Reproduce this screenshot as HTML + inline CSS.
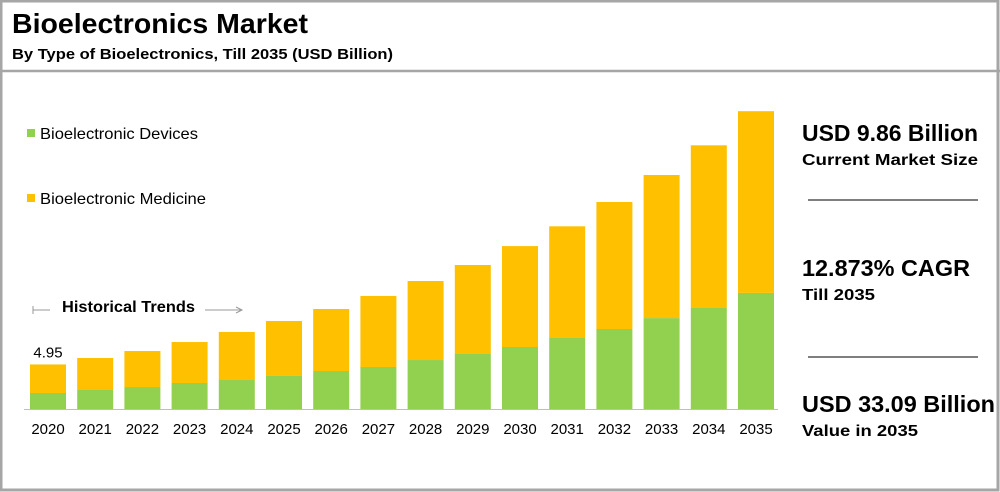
<!DOCTYPE html>
<html><head><meta charset="utf-8"><style>
body{margin:0;background:#fff;font-family:"Liberation Sans",sans-serif;}
#wrap{position:relative;width:1000px;height:492px;overflow:hidden;}
</style></head><body>
<div id="wrap">
<svg id="svg" width="1000" height="492">
<rect x="1" y="1" width="997" height="489" fill="#fff" stroke="#a6a6a6" stroke-width="3"/>
<line x1="0" y1="71" x2="1000" y2="71" stroke="#a6a6a6" stroke-width="2.5"/>
<text x="12" y="33" font-size="28" font-weight="bold" fill="#000" textLength="296" lengthAdjust="spacingAndGlyphs">Bioelectronics Market</text>
<text x="12" y="59" font-size="15" font-weight="bold" fill="#000" textLength="381" lengthAdjust="spacingAndGlyphs">By Type of Bioelectronics, Till 2035 (USD Billion)</text>
<rect x="27" y="129" width="8" height="8" fill="#92d050"/>
<text x="40" y="139" font-size="16" fill="#000" textLength="158" lengthAdjust="spacingAndGlyphs">Bioelectronic Devices</text>
<rect x="27" y="194" width="8" height="8" fill="#ffc000"/>
<text x="40" y="204" font-size="16" fill="#000" textLength="166" lengthAdjust="spacingAndGlyphs">Bioelectronic Medicine</text>
<g stroke="#999" stroke-width="1" fill="none">
<line x1="33" y1="306" x2="33" y2="314"/><line x1="33" y1="310" x2="50" y2="310"/>
<line x1="205" y1="310" x2="241" y2="310"/><path d="M236 307 L242 310 L236 313"/>
</g>
<text x="62" y="312" font-size="16" font-weight="bold" fill="#000" textLength="133" lengthAdjust="spacingAndGlyphs">Historical Trends</text>
<g id="bars"></g>
<text x="802" y="141" font-size="23" font-weight="bold" textLength="176" lengthAdjust="spacingAndGlyphs">USD 9.86 Billion</text>
<text x="802" y="165" font-size="16" font-weight="bold" textLength="176" lengthAdjust="spacingAndGlyphs">Current Market Size</text>
<line x1="808" y1="200" x2="978" y2="200" stroke="#7f7f7f" stroke-width="2"/>
<text x="802" y="276" font-size="23" font-weight="bold" textLength="168" lengthAdjust="spacingAndGlyphs">12.873% CAGR</text>
<text x="802" y="300" font-size="16" font-weight="bold" textLength="73" lengthAdjust="spacingAndGlyphs">Till 2035</text>
<line x1="808" y1="357" x2="978" y2="357" stroke="#7f7f7f" stroke-width="2"/>
<text x="802" y="412" font-size="23" font-weight="bold" textLength="193" lengthAdjust="spacingAndGlyphs">USD 33.09 Billion</text>
<text x="802" y="436" font-size="16" font-weight="bold" textLength="116" lengthAdjust="spacingAndGlyphs">Value in 2035</text>
</svg>
</div>
<script>
const years=["2020","2021","2022","2023","2024","2025","2026","2027","2028","2029","2030","2031","2032","2033","2034","2035"];
const devices=[1.78,2.11,2.44,2.89,3.22,3.67,4.22,4.67,5.44,6.11,6.89,7.89,8.89,10.1,11.3,12.9];
const medicine=[3.17,3.56,4.0,4.55,5.34,6.11,6.89,7.89,8.78,9.89,11.21,12.41,14.11,15.9,18.0,20.19];
const firstLabel="4.95";
const ns="http://www.w3.org/2000/svg";
const g=document.getElementById('bars');
const base=409, scale=9.0, x0=48, step=47.2, bw=36;
const xS=i=>x0+i*step;
const yS=v=>base-v*scale;
function mk(t,a){const e=document.createElementNS(ns,t);for(const k in a)e.setAttribute(k,a[k]);g.appendChild(e);return e;}
years.forEach((y,i)=>{
  const d=mk('rect',{x:xS(i)-bw/2,y:yS(devices[i]),width:bw,height:devices[i]*scale,fill:'#92d050'});
  
  
  const tot=devices[i]+medicine[i];
  const m=mk('rect',{x:xS(i)-bw/2,y:yS(tot),width:bw,height:medicine[i]*scale,fill:'#ffc000'});
  
  
  const t=mk('text',{x:xS(i),y:434,'font-size':15,'text-anchor':'middle',fill:'#000'});
  t.textContent=y;
  
  
});
const ax=mk('line',{x1:24,y1:base+0.5,x2:xS(15)+bw/2+4,y2:base+0.5,stroke:'#bfbfbf','stroke-width':1});


const lb=mk('text',{x:xS(0),y:yS(devices[0]+medicine[0])-7,'font-size':15,'text-anchor':'middle',fill:'#000'});
lb.textContent=firstLabel;


</script>
</body></html>
